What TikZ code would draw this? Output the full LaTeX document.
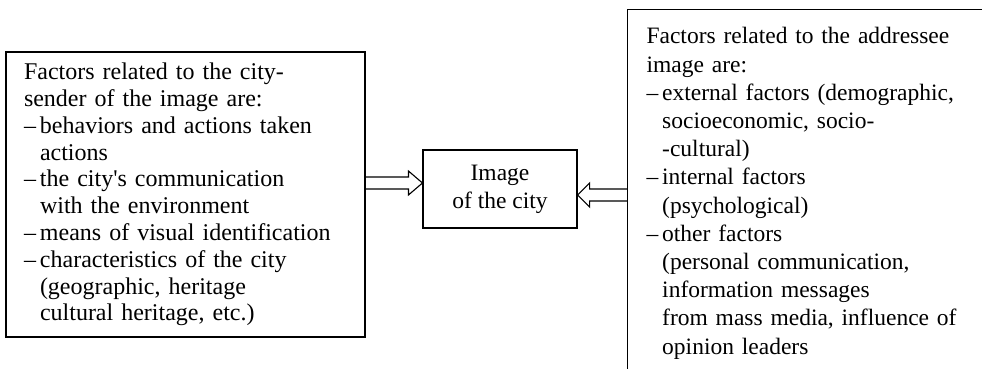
\documentclass[tikz,border=0pt]{standalone}
\usepackage{fontspec}
\setmainfont{Liberation Serif}
\usetikzlibrary{calc}
\newcommand{\indL}{\hphantom{--\,}}
\tikzset{
  box/.style={draw, line width=1.1pt, align=left},
  hollow/.style={draw, line width=1.1pt, line join=miter}
}
\begin{document}
\begin{tikzpicture}[x=1pt, y=-1pt, font=\fontsize{23.5}{26.8}\selectfont]
\useasboundingbox (0,0) rectangle (982,369);
\clip (0,0) rectangle (982,369);
% city-sender
\node[box, minimum width=359pt, minimum height=285pt, inner xsep=18pt,
  text width=323pt, font=\fontsize{24}{26.8}\selectfont] (sender) at (185.5,194.5)
  {Factors related to the city-\\
   sender of the image are:\\
   --\,behaviors and actions taken\\
   \indL actions\\
   --\,the city\textquotesingle s communication\\
   \indL with the environment\\
   --\,means of visual identification\\
   --\,characteristics of the city\\
   \indL (geographic, heritage\\
   \indL cultural heritage, etc.)};
% image
\node[box, align=center, minimum width=154pt, minimum height=78pt,
  font=\fontsize{23.5}{28}\selectfont] (city) at (500,189)
  {Image\\of the city};
% addressee
\node[box, anchor=north west, inner xsep=19pt, inner ysep=18pt,
  text width=340pt, font=\fontsize{23.5}{28.2}\selectfont]
  (addressee) at (627,9)
  {Factors related to the addressee\\
   image are:\\
   --\,external factors (demographic,\\
   \indL socioeconomic, socio-\\
   \indL -cultural)\\
   --\,internal factors\\
   \indL (psychological)\\
   --\,other factors\\
   \indL (personal communication,\\
   \indL information messages\\
   \indL from mass media, influence of\\
   \indL opinion leaders};
% arrows
\coordinate (lt) at ([yshift=6pt]city.west);
\coordinate (ls) at (sender.east |- lt);
\draw[hollow] ($(ls)+(0,-6)$) -- ($(lt)+(-14,-6)$) -- ($(lt)+(-14,-12)$) -- (lt)
  -- ($(lt)+(-14,12)$) -- ($(lt)+(-14,6)$) -- ($(ls)+(0,6)$);
\coordinate (rt) at ([yshift=-6pt]city.east);
\coordinate (rs) at (addressee.west |- rt);
\draw[hollow] ($(rs)+(0,-6)$) -- ($(rt)+(12,-6)$) -- ($(rt)+(12,-12)$) -- (rt)
  -- ($(rt)+(12,12)$) -- ($(rt)+(12,6)$) -- ($(rs)+(0,6)$);
\end{tikzpicture}
\end{document}
